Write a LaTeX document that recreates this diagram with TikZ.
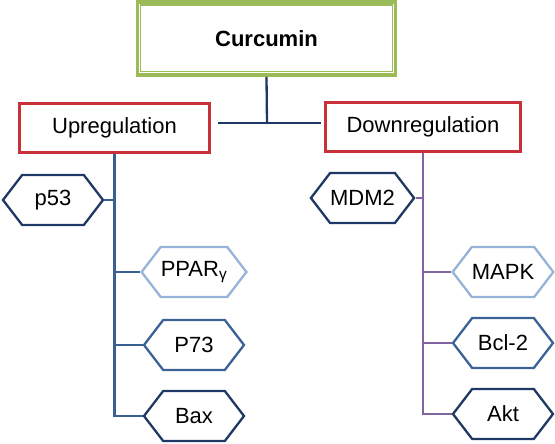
\documentclass[tikz,border=0pt]{standalone}
\usepackage{fontspec}
\setmainfont{Liberation Sans}
\usetikzlibrary{shapes.symbols,positioning}
\definecolor{curgreen}{HTML}{9BBB59}
\definecolor{boxred}{HTML}{C8303A}
\definecolor{navy}{HTML}{1F3864}
\definecolor{midblue}{HTML}{3A6296}
\definecolor{paleblue}{HTML}{95B3D7}
\definecolor{treeblue}{HTML}{3B5F8F}
\definecolor{treepurple}{HTML}{8064A2}

\begin{document}
\begin{tikzpicture}[
    x=1pt, y=-1pt,
    line width=2.3pt,
    every node/.style={font=\fontsize{22}{26}\selectfont, inner sep=0pt},
    regbox/.style={rectangle, draw=boxred, line width=2.2pt, minimum height=49pt},
    hexa/.style={signal, signal to=east and west, signal pointer angle=105,
                 draw, line width=2.3pt, minimum width=100pt, minimum height=50pt}
]
  \useasboundingbox (0,0) rectangle (555,444);

  % nodes
  \node[rectangle, draw=curgreen, line width=3.6pt, minimum width=258pt, minimum height=73pt,
        font=\fontsize{22}{26}\selectfont\bfseries] (cur) at (266.5,38.5) {Curcumin};
  \draw[curgreen, line width=1.4pt] ([shift={(5pt,-5pt)}]cur.north west)
      rectangle ([shift={(-5pt,5pt)}]cur.south east);

  \node[regbox, minimum width=190pt] (up) at (114.5,128) {Upregulation};
  \node[regbox, minimum width=195pt] (down) at (423,127) {Downregulation};

  \node[hexa, draw=navy] (p53) at (53,200) {p53};
  \node[hexa, draw=paleblue] (ppar) at (194,272) {PPAR\textsubscript{γ}};
  \node[hexa, draw=midblue] (p73) at (194,345) {P73};
  \node[hexa, draw=navy] (bax) at (194,416) {Bax};

  \node[hexa, draw=navy] (mdm) at (362.5,198) {MDM2};
  \node[hexa, draw=paleblue] (mapk) at (503,272) {MAPK};
  \node[hexa, draw=midblue] (bcl) at (503,343) {Bcl-2};
  \node[hexa, draw=navy] (akt) at (503,414) {Akt};

  \coordinate (hub) at (267,123);

  % edges
  \draw[navy] (cur.south) -- (hub);
  \draw[navy] ([xshift=7pt]up.east |- hub) -- ([xshift=-3pt]down.west |- hub);

  \draw[treeblue] (up.south) -- (up.south |- bax.west) -- (bax.west);
  \draw[treeblue] (p53.east) -- (p53.east -| up.south);
  \draw[treeblue] (ppar.west -| up.south) -- (ppar.west);
  \draw[treeblue] (p73.west -| up.south) -- (p73.west);

  \draw[treepurple] (down.south) -- (down.south |- akt.west) -- (akt.west);
  \draw[treepurple] (mdm.east) -- (mdm.east -| down.south);
  \draw[treepurple] (mapk.west -| down.south) -- (mapk.west);
  \draw[treepurple] (bcl.west -| down.south) -- (bcl.west);
\end{tikzpicture}
\end{document}
